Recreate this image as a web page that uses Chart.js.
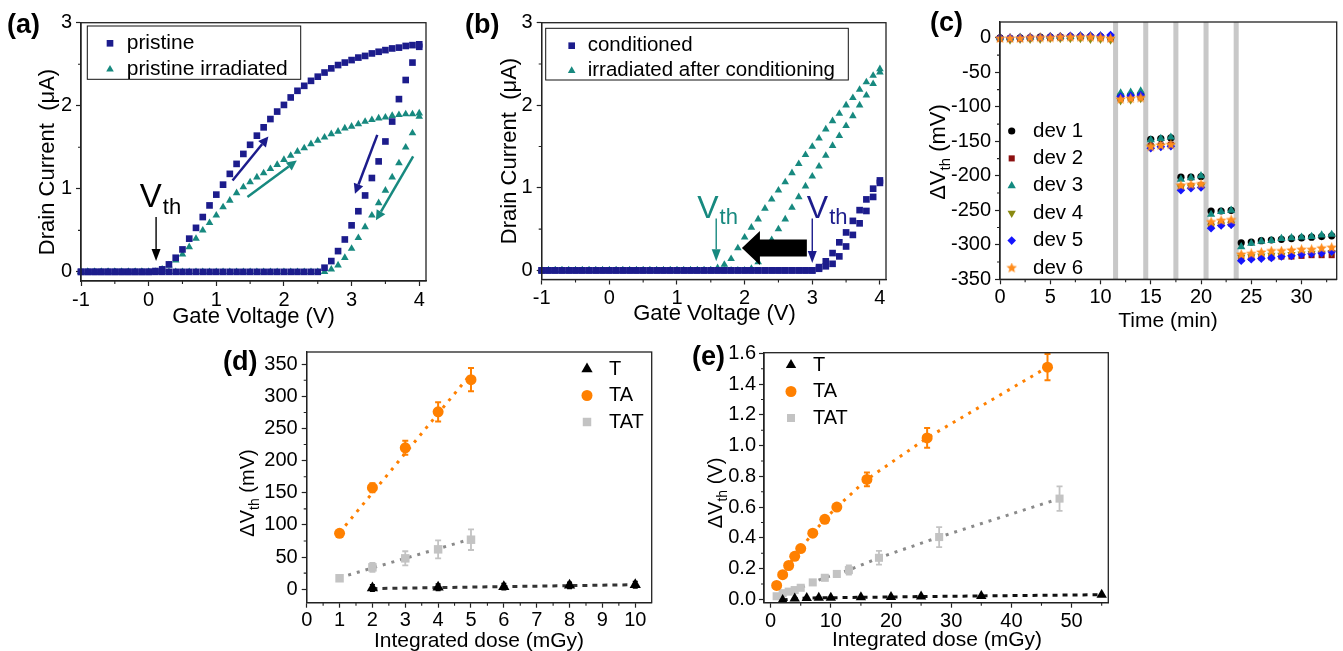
<!DOCTYPE html>
<html>
<head>
<meta charset="utf-8">
<title>Threshold voltage shift</title>
<script src="https://cdn.jsdelivr.net/npm/chart.js@4.4.1/dist/chart.umd.min.js"></script>
<style>
  html, body { margin: 0; padding: 0; background: #fff; }
  #fig { position: relative; width: 1343px; height: 651px; overflow: hidden; background: #fff; }
  #fig canvas { position: absolute; left: 0; top: 0; }
</style>
</head>
<body>
<div id="fig">
  <canvas id="chart-a" width="1343" height="651"></canvas>
  <canvas id="chart-b" width="1343" height="651"></canvas>
  <canvas id="chart-c" width="1343" height="651"></canvas>
  <canvas id="chart-d" width="1343" height="651"></canvas>
  <canvas id="chart-e" width="1343" height="651"></canvas>
</div>
<script>
// ---------- (a) and (b): gate sweeps from -1 V to 4 V ----------
const gateV = [-1.0, -0.9, -0.8, -0.7, -0.6, -0.5, -0.4, -0.3, -0.2, -0.1,
  0.0, 0.1, 0.2, 0.3, 0.4, 0.5, 0.6, 0.7, 0.8, 0.9,
  1.0, 1.1, 1.2, 1.3, 1.4, 1.5, 1.6, 1.7, 1.8, 1.9,
  2.0, 2.1, 2.2, 2.3, 2.4, 2.5, 2.6, 2.7, 2.8, 2.9,
  3.0, 3.1, 3.2, 3.3, 3.4, 3.5, 3.6, 3.7, 3.8, 3.9, 4.0];

// (a) drain current, uA
const pristineUp = [0, 0, 0, 0, 0, 0, 0, 0, 0, 0,
  0, 0.01, 0.03, 0.09, 0.17, 0.27, 0.40, 0.53, 0.66, 0.80,
  0.93, 1.05, 1.18, 1.30, 1.42, 1.53, 1.64, 1.74, 1.84, 1.93,
  2.01, 2.10, 2.18, 2.24, 2.30, 2.35, 2.40, 2.45, 2.49, 2.52,
  2.55, 2.58, 2.60, 2.63, 2.65, 2.67, 2.69, 2.70, 2.72, 2.73, 2.74];
const pristineDown = [0, 0, 0, 0, 0, 0, 0, 0, 0, 0,
  0, 0, 0, 0, 0, 0, 0, 0, 0, 0,
  0, 0, 0, 0, 0, 0, 0, 0, 0, 0,
  0, 0, 0, 0, 0, 0, 0.05, 0.13, 0.25, 0.39,
  0.56, 0.73, 0.92, 1.13, 1.33, 1.57, 1.81, 2.08, 2.31, 2.52, 2.71];
const irradUp = [0, 0, 0, 0, 0, 0, 0, 0, 0, 0,
  0, 0, 0.03, 0.08, 0.14, 0.21, 0.30, 0.40, 0.50, 0.59,
  0.68, 0.78, 0.86, 0.95, 1.02, 1.08, 1.14, 1.19, 1.24, 1.29,
  1.35, 1.40, 1.45, 1.49, 1.54, 1.58, 1.62, 1.66, 1.69, 1.73,
  1.75, 1.78, 1.81, 1.83, 1.85, 1.86, 1.88, 1.89, 1.90, 1.90, 1.91];
const irradDown = [0, 0, 0, 0, 0, 0, 0, 0, 0, 0,
  0, 0, 0, 0, 0, 0, 0, 0, 0, 0,
  0, 0, 0, 0, 0, 0, 0, 0, 0, 0,
  0, 0, 0, 0, 0, 0, 0, 0.03, 0.08, 0.17,
  0.28, 0.41, 0.54, 0.68, 0.83, 0.98, 1.14, 1.31, 1.50, 1.67, 1.87];

// (b) drain current, uA
const condUp = [0, 0, 0, 0, 0, 0, 0, 0, 0, 0,
  0, 0, 0, 0, 0, 0, 0, 0, 0, 0,
  0, 0, 0, 0, 0, 0, 0, 0, 0, 0,
  0, 0, 0, 0, 0, 0, 0, 0, 0, 0,
  0, 0.04, 0.11, 0.21, 0.34, 0.46, 0.60, 0.73, 0.86, 0.99, 1.09];
const condDown = [0, 0, 0, 0, 0, 0, 0, 0, 0, 0,
  0, 0, 0, 0, 0, 0, 0, 0, 0, 0,
  0, 0, 0, 0, 0, 0, 0, 0, 0, 0,
  0, 0, 0, 0, 0, 0, 0, 0, 0, 0,
  0, 0.02, 0.05, 0.08, 0.17, 0.29, 0.43, 0.57, 0.72, 0.89, 1.06];
const irrCondUp = [0, 0, 0, 0, 0, 0, 0, 0, 0, 0,
  0, 0, 0, 0, 0, 0, 0, 0, 0, 0,
  0, 0, 0, 0, 0, 0, 0.03, 0.07, 0.14, 0.27,
  0.40, 0.52, 0.62, 0.75, 0.86, 0.97, 1.07, 1.18, 1.29, 1.40,
  1.50, 1.60, 1.71, 1.81, 1.90, 2.00, 2.09, 2.19, 2.28, 2.36, 2.44];
const irrCondDown = [0, 0, 0, 0, 0, 0, 0, 0, 0, 0,
  0, 0, 0, 0, 0, 0, 0, 0, 0, 0,
  0, 0, 0, 0, 0, 0, 0, 0, 0, 0,
  0, 0.02, 0.10, 0.23, 0.37, 0.50, 0.62, 0.76, 0.89, 1.02,
  1.14, 1.26, 1.39, 1.51, 1.63, 1.75, 1.87, 2.00, 2.12, 2.26, 2.40];

const sweepTicksX = [-1, 0, 1, 2, 3, 4];
const sweepMinorX = [-0.5, 0.5, 1.5, 2.5, 3.5];
const sweepTicksY = [0, 1, 2, 3];
const sweepMinorY = [0.5, 1.5, 2.5];

// ---------- (c): threshold shift vs time, mV ----------
const timeMin = [0, 1, 2, 3, 4, 5, 6, 7, 8, 9, 10, 11, 12, 13, 14, 15, 16,
  17, 18, 19, 20, 21, 22, 23, 24, 25, 26, 27, 28, 29, 30, 31, 32, 33];
const dev1 = [0, -1, 0, 0, 1, 1, 1, 2, 2, 2, 2, 1, -84, -83, -82, -147, -146,
  -145, -202, -202, -201, -251, -251, -250, -297, -296, -294, -293, -292, -291, -290, -289, -288, -287];
const dev2 = [-1, -1, -1, 0, 0, 0, 1, 1, 1, 1, 0, -1, -88, -87, -86, -157, -156,
  -155, -216, -215, -214, -272, -270, -269, -320, -319, -318, -318, -317, -317, -316, -315, -315, -315];
const dev3 = [0, 0, 1, 1, 1, 2, 2, 2, 3, 3, 3, 3, -80, -79, -77, -148, -146,
  -144, -205, -203, -200, -256, -252, -250, -303, -298, -295, -294, -291, -290, -289, -288, -286, -285];
const dev4 = [-2, -3, -2, -2, -2, -1, -1, -1, -1, -2, -2, -3, -91, -90, -88, -158, -157,
  -156, -217, -216, -215, -273, -271, -270, -318, -317, -316, -315, -315, -314, -313, -312, -312, -311];
const dev5 = [0, 0, 0, 1, 1, 2, 2, 3, 3, 3, 3, 4, -85, -84, -83, -160, -158,
  -157, -221, -218, -217, -276, -272, -271, -323, -321, -320, -319, -317, -316, -314, -313, -312, -310];
const dev6 = [-1, -1, -1, 0, 0, 0, 1, 1, 1, 1, 0, -1, -89, -88, -87, -158, -156,
  -155, -214, -213, -212, -267, -265, -264, -314, -313, -311, -309, -309, -308, -307, -307, -305, -304];
const irradTimes = [11.5, 14.5, 17.5, 20.5, 23.5];

const timeTicksX = [0, 5, 10, 15, 20, 25, 30];
const timeMinorX = [2.5, 7.5, 12.5, 17.5, 22.5, 27.5, 32.5];
const shiftTicksY = [0, -50, -100, -150, -200, -250, -300, -350];
const shiftMinorY = [-25, -75, -125, -175, -225, -275, -325];

// ---------- (d): shift vs dose, mV ----------
const tDoseD = [2, 4, 6, 8, 10];
const tShiftD = [2, 3, 4, 6, 7];
const tErrD = [5, 5, 5, 5, 5];
const taDoseD = [1, 2, 3, 4, 5];
const taShiftD = [87, 158, 220, 276, 326];
const taErrD = [3, 7, 11, 15, 18];
const tatDoseD = [1, 2, 3, 4, 5];
const tatShiftD = [17, 34, 48, 62, 77];
const tatErrD = [3, 7, 11, 14, 16];
// linear fits
const tFitD = { x: [2, 10], y: [1, 7] };
const taFitD = { x: [1, 5], y: [88, 335] };
const tatFitD = { x: [1, 5], y: [18, 78] };

const doseTicksXD = [0, 1, 2, 3, 4, 5, 6, 7, 8, 9, 10];
const doseMinorXD = [0.5, 1.5, 2.5, 3.5, 4.5, 5.5, 6.5, 7.5, 8.5, 9.5];
const mvTicksYD = [0, 50, 100, 150, 200, 250, 300, 350];
const mvMinorYD = [25, 75, 125, 175, 225, 275, 325];

// ---------- (e): shift vs dose, V ----------
const tDoseE = [2, 4, 6, 8, 10, 15, 20, 25, 35, 55];
const tShiftE = [-0.005, 0.005, 0.008, 0.01, 0.01, 0.013, 0.015, 0.018, 0.022, 0.03];
const taDoseE = [1, 2, 3, 4, 5, 7, 9, 11, 16, 26, 46];
const taShiftE = [0.09, 0.16, 0.22, 0.28, 0.33, 0.43, 0.52, 0.60, 0.78, 1.05, 1.51];
const taErrE = [0.01, 0.01, 0.01, 0.01, 0.01, 0.01, 0.01, 0.015, 0.045, 0.064, 0.085];
const tatDoseE = [1, 2, 3, 4, 5, 7, 9, 11, 13, 18, 28, 48];
const tatShiftE = [0.02, 0.04, 0.05, 0.06, 0.075, 0.11, 0.14, 0.165, 0.19, 0.27, 0.405, 0.655];
const tatErrE = [0.01, 0.01, 0.01, 0.01, 0.01, 0.015, 0.015, 0.02, 0.03, 0.045, 0.065, 0.08];

const doseTicksXE = [0, 10, 20, 30, 40, 50];
const doseMinorXE = [5, 15, 25, 35, 45, 55];
const vTicksYE = [0, 0.2, 0.4, 0.6, 0.8, 1.0, 1.2, 1.4, 1.6];
const vMinorYE = [0.1, 0.3, 0.5, 0.7, 0.9, 1.1, 1.3, 1.5];

// ---------- styling ----------
const FONT = '"Liberation Sans", Arial, Helvetica, sans-serif';
const AXIS = '#222';
const W = 1343;
const NAVY = '#1c1c8c';
const TEAL = '#17897f';
const ORANGE = '#ff8000';
const LGRAY = '#c3c3c3';
const DGRAY = '#8a8a8a';

// filled five-point star used for dev 6
function starImage(color, size) {
  const c = document.createElement('canvas');
  c.width = c.height = size;
  const g = c.getContext('2d');
  const R = size / 2, r = R * 0.45;
  g.fillStyle = color;
  g.beginPath();
  for (let k = 0; k < 10; k++) {
    const rad = k % 2 ? r : R;
    const ang = -Math.PI / 2 + k * Math.PI / 5;
    g.lineTo(R + rad * Math.cos(ang), R + rad * Math.sin(ang));
  }
  g.closePath();
  g.fill();
  return c;
}

function linAxis(spec, size, isX) {
  return {
    type: 'linear',
    min: spec.min,
    max: spec.max,
    border: { display: true, color: AXIS, width: 1.3 },
    grid: { drawOnChartArea: false, drawTicks: true, tickLength: 5, color: AXIS, tickWidth: 1.2 },
    ticks: {
      padding: spec.pad,
      color: '#000',
      font: { family: FONT, size: 20 },
      maxRotation: 0,
      autoSkip: false,
      callback: v => spec.fmt ? spec.fmt(v) : String(v)
    },
    afterBuildTicks: s => { s.ticks = spec.ticks.map(v => ({ value: v })); },
    afterFit: s => { if (isX) s.height = size; else s.width = size; }
  };
}

function marks(label, xs, ys, color, style, r, more) {
  return Object.assign({
    label,
    inLegend: true,
    data: xs.map((x, i) => ({ x, y: ys[i] })),
    pointStyle: style,
    pointRadius: r,
    pointRotation: 0,
    backgroundColor: color,
    borderColor: color,
    pointBackgroundColor: color,
    pointBorderWidth: 0,
    showLine: false,
    clip: false
  }, more || {});
}

function dotted(label, xs, ys, color, dash, width) {
  return {
    label,
    inLegend: false,
    data: xs.map((x, i) => ({ x, y: ys[i] })),
    showLine: true,
    pointRadius: 0,
    borderColor: color,
    borderWidth: width,
    borderDash: dash,
    tension: 0,
    fill: false,
    clip: false
  };
}

function rotatedTitle(ctx, t) {
  ctx.save();
  ctx.translate(t.x, t.y);
  ctx.rotate(-Math.PI / 2);
  ctx.textAlign = 'left';
  ctx.textBaseline = 'alphabetic';
  let w = 0;
  t.parts.forEach(p => { ctx.font = p.size + 'px ' + FONT; w += ctx.measureText(p.text).width; });
  let x = -w / 2;
  const base = t.parts[0].size * 0.36;
  t.parts.forEach(p => {
    ctx.font = p.size + 'px ' + FONT;
    ctx.fillText(p.text, x, base + (p.dy || 0));
    x += ctx.measureText(p.text).width;
  });
  ctx.restore();
}

function drawLegend(chart, ctx, L) {
  const a = chart.chartArea;
  if (L.box) {
    ctx.strokeStyle = '#111';
    ctx.lineWidth = 1;
    ctx.strokeRect(a.left + L.box[0], a.top + L.box[1], L.box[2] - L.box[0], L.box[3] - L.box[1]);
  }
  ctx.font = L.size + 'px ' + FONT;
  ctx.textAlign = 'left';
  ctx.textBaseline = 'middle';
  chart.data.datasets.filter(ds => ds.inLegend).forEach((ds, i) => {
    const y = a.top + L.y0 + i * L.dy;
    ctx.fillStyle = ds.pointBackgroundColor;
    ctx.strokeStyle = ds.pointBackgroundColor;
    Chart.helpers.drawPoint(ctx, {
      pointStyle: ds.pointStyle, radius: ds.pointRadius, rotation: ds.pointRotation, borderWidth: 0
    }, a.left + L.mx, y);
    ctx.fillStyle = '#000';
    ctx.fillText(ds.label, a.left + L.tx, y);
  });
}

function errBars(chart, ctx, xs, ys, errs, color, width, cap) {
  const sx = chart.scales.x, sy = chart.scales.y;
  ctx.strokeStyle = color;
  ctx.lineWidth = width;
  ctx.beginPath();
  xs.forEach((x, i) => {
    const px = sx.getPixelForValue(x);
    const lo = sy.getPixelForValue(ys[i] - errs[i]);
    const hi = sy.getPixelForValue(ys[i] + errs[i]);
    ctx.moveTo(px, lo); ctx.lineTo(px, hi);
    ctx.moveTo(px - cap, lo); ctx.lineTo(px + cap, lo);
    ctx.moveTo(px - cap, hi); ctx.lineTo(px + cap, hi);
  });
  ctx.stroke();
}

// straight arrow with a filled head
function arrow(ctx, p1, p2, color, width, head, half) {
  const ang = Math.atan2(p2[1] - p1[1], p2[0] - p1[0]);
  const bx = p2[0] - head * Math.cos(ang), by = p2[1] - head * Math.sin(ang);
  ctx.strokeStyle = color;
  ctx.fillStyle = color;
  ctx.lineWidth = width;
  ctx.beginPath();
  ctx.moveTo(p1[0], p1[1]);
  ctx.lineTo(bx, by);
  ctx.stroke();
  ctx.beginPath();
  ctx.moveTo(p2[0], p2[1]);
  ctx.lineTo(bx + half * Math.sin(ang), by - half * Math.cos(ang));
  ctx.lineTo(bx - half * Math.sin(ang), by + half * Math.cos(ang));
  ctx.closePath();
  ctx.fill();
}

function vthLabel(ctx, p, color, big, small) {
  ctx.fillStyle = color;
  ctx.textAlign = 'left';
  ctx.textBaseline = 'alphabetic';
  ctx.font = big + 'px ' + FONT;
  ctx.fillText('V', p[0], p[1]);
  const w = ctx.measureText('V').width;
  ctx.font = small + 'px ' + FONT;
  ctx.fillText('th', p[0] + w + 1, p[1] + 6.5);
}

function decor(o) {
  return {
    id: 'decor',
    beforeDatasetsDraw(chart) {
      if (!o.under) return;
      const ctx = chart.ctx;
      ctx.save();
      o.under(chart, ctx);
      ctx.restore();
    },
    afterDraw(chart) {
      const ctx = chart.ctx, a = chart.chartArea;
      const sx = chart.scales.x, sy = chart.scales.y;
      ctx.save();
      ctx.strokeStyle = AXIS;
      ctx.lineWidth = 1.3;
      ctx.strokeRect(a.left, a.top, a.right - a.left, a.bottom - a.top);

      // minor ticks, pointing out
      ctx.lineWidth = 1.1;
      ctx.beginPath();
      o.minorX.forEach(v => { const p = sx.getPixelForValue(v); ctx.moveTo(p, a.bottom); ctx.lineTo(p, a.bottom + 3); });
      o.minorY.forEach(v => { const p = sy.getPixelForValue(v); ctx.moveTo(a.left, p); ctx.lineTo(a.left - 3, p); });
      ctx.stroke();

      ctx.fillStyle = '#000';
      ctx.textAlign = 'center';
      ctx.textBaseline = 'alphabetic';
      ctx.font = o.xTitle.size + 'px ' + FONT;
      ctx.fillText(o.xTitle.text, o.xTitle.x, o.xTitle.y);
      rotatedTitle(ctx, o.yTitle);

      ctx.textAlign = 'left';
      ctx.font = 'bold 27px ' + FONT;
      ctx.fillText(o.tag.text, o.tag.x, o.tag.y);

      if (o.legend) drawLegend(chart, ctx, o.legend);
      if (o.over) {
        const P = (x, y) => [sx.getPixelForValue(x), sy.getPixelForValue(y)];
        o.over(chart, ctx, P);
      }
      ctx.restore();
    }
  };
}

function panel(id, box, xSpec, ySpec, datasets, deco) {
  return new Chart(document.getElementById(id), {
    type: 'scatter',
    data: { datasets },
    options: {
      responsive: false,
      animation: false,
      devicePixelRatio: 1,
      events: [],
      layout: { padding: { left: 0, top: box.top, right: W - box.right, bottom: 0 } },
      plugins: { legend: { display: false }, tooltip: { enabled: false } },
      scales: {
        x: linAxis(xSpec, 651 - box.bottom, true),
        y: linAxis(ySpec, box.left, false)
      }
    },
    plugins: [decor(deco)]
  });
}

const drainTitle = size => [{ text: 'Drain Current  (\u03bcA)', size }];

// ---------- (a) ----------
panel('chart-a',
  { left: 81, top: 22.7, right: 426, bottom: 281 },
  { min: -1, max: 4.1, ticks: sweepTicksX, pad: 2 },
  { min: -0.11, max: 3, ticks: sweepTicksY, pad: 4 },
  [
    marks('pristine', gateV, pristineUp, NAVY, 'rect', 4.7),
    marks('pristine, reverse', gateV, pristineDown, NAVY, 'rect', 4.7, { inLegend: false }),
    marks('pristine irradiated', gateV, irradUp, TEAL, 'triangle', 4.4),
    marks('pristine irradiated, reverse', gateV, irradDown, TEAL, 'triangle', 4.4, { inLegend: false })
  ],
  {
    minorX: sweepMinorX, minorY: sweepMinorY,
    xTitle: { text: 'Gate Voltage (V)', size: 22, x: 253.5, y: 323 },
    yTitle: { parts: drainTitle(22), x: 46, y: 162 },
    tag: { text: '(a)', x: 7, y: 33 },
    legend: { box: [6.3, 3.3, 219.7, 56.6], mx: 29, y0: 20.6, dy: 26, tx: 45.7, size: 21 },
    over(chart, ctx, P) {
      // sweep direction arrows
      arrow(ctx, P(1.24, 1.10), P(1.77, 1.63), NAVY, 2.5, 10, 5);
      arrow(ctx, P(1.46, 0.90), P(2.19, 1.34), TEAL, 2.5, 10, 5);
      arrow(ctx, P(3.38, 1.65), P(3.05, 0.94), NAVY, 2.5, 10, 5);
      arrow(ctx, P(3.91, 1.39), P(3.36, 0.62), TEAL, 2.5, 10, 5);
      // threshold marker
      arrow(ctx, P(0.11, 0.66), P(0.11, 0.13), '#000', 1.4, 12, 4.5);
      vthLabel(ctx, P(-0.13, 0.78), '#000', 33, 22);
    }
  });

// ---------- (b) ----------
panel('chart-b',
  { left: 541.7, top: 22.7, right: 886, bottom: 279.5 },
  { min: -1, max: 4.09, ticks: sweepTicksX, pad: 2 },
  { min: -0.11, max: 3, ticks: sweepTicksY, pad: 4 },
  [
    marks('conditioned', gateV, condUp, NAVY, 'rect', 4.7),
    marks('conditioned, reverse', gateV, condDown, NAVY, 'rect', 4.7, { inLegend: false }),
    marks('irradiated after conditioning', gateV, irrCondUp, TEAL, 'triangle', 4.4),
    marks('irradiated after conditioning, reverse', gateV, irrCondDown, TEAL, 'triangle', 4.4, { inLegend: false })
  ],
  {
    minorX: sweepMinorX, minorY: sweepMinorY,
    xTitle: { text: 'Gate Voltage (V)', size: 22, x: 714.5, y: 320 },
    yTitle: { parts: drainTitle(22), x: 508, y: 151 },
    tag: { text: '(b)', x: 465, y: 33 },
    legend: { box: [4, 5.6, 306.6, 57.3], mx: 30, y0: 23, dy: 25, tx: 46, size: 20.5 },
    over(chart, ctx, P) {
      arrow(ctx, P(1.58, 0.63), P(1.58, 0.11), TEAL, 1.4, 12, 4.5);
      vthLabel(ctx, P(1.30, 0.64), TEAL, 32, 22);
      arrow(ctx, P(3.0, 0.63), P(3.0, 0.09), NAVY, 1.4, 12, 4.5);
      vthLabel(ctx, P(2.92, 0.64), NAVY, 32, 22);
      // big shift arrow
      const tip = P(1.96, 0.27), tail = P(2.92, 0.27);
      ctx.fillStyle = '#000';
      ctx.beginPath();
      ctx.moveTo(tip[0], tip[1]);
      ctx.lineTo(tip[0] + 18, tip[1] - 17);
      ctx.lineTo(tip[0] + 18, tip[1] - 8.5);
      ctx.lineTo(tail[0], tip[1] - 8.5);
      ctx.lineTo(tail[0], tip[1] + 8.5);
      ctx.lineTo(tip[0] + 18, tip[1] + 8.5);
      ctx.lineTo(tip[0] + 18, tip[1] + 17);
      ctx.closePath();
      ctx.fill();
    }
  });

// ---------- (c) ----------
panel('chart-c',
  { left: 1000, top: 22, right: 1336.7, bottom: 279.3 },
  { min: 0, max: 33.5, ticks: timeTicksX, pad: 1 },
  { min: -350, max: 23, ticks: shiftTicksY, pad: 4 },
  [
    marks('dev 1', timeMin, dev1, '#000000', 'circle', 3.6, { order: 6 }),
    marks('dev 2', timeMin, dev2, '#8c1010', 'rect', 4.3, { order: 5 }),
    marks('dev 3', timeMin, dev3, '#138a80', 'triangle', 4.8, { order: 4 }),
    marks('dev 4', timeMin, dev4, '#8a8a12', 'triangle', 4.8, { order: 3, pointRotation: 180 }),
    marks('dev 5', timeMin, dev5, '#1414ff', 'rectRot', 4.3, { order: 2 }),
    marks('dev 6', timeMin, dev6, '#ff8c1c', starImage('#ff8c1c', 11), 4, { order: 1 })
  ],
  {
    minorX: timeMinorX, minorY: shiftMinorY,
    xTitle: { text: 'Time (min)', size: 21, x: 1168, y: 327 },
    yTitle: { parts: [{ text: '\u0394V', size: 22 }, { text: 'th', size: 15, dy: 5 }, { text: ' (mV)', size: 22 }], x: 937, y: 152 },
    tag: { text: '(c)', x: 930, y: 31 },
    legend: { mx: 11.7, y0: 109, dy: 27.4, tx: 33, size: 20.5 },
    under(chart, ctx) {
      // irradiation intervals
      const a = chart.chartArea, sx = chart.scales.x;
      ctx.fillStyle = '#c8c8c8';
      irradTimes.forEach(t => {
        const x1 = sx.getPixelForValue(t - 0.25), x2 = sx.getPixelForValue(t + 0.25);
        ctx.fillRect(x1, a.top, x2 - x1, a.bottom - a.top);
      });
    }
  });

// ---------- (d) ----------
panel('chart-d',
  { left: 306.7, top: 352, right: 651.7, bottom: 602.7 },
  { min: 0, max: 10.5, ticks: doseTicksXD, pad: 1 },
  { min: -21, max: 369, ticks: mvTicksYD, pad: 4 },
  [
    marks('T', tDoseD, tShiftD, '#000', 'triangle', 6.5),
    marks('TA', taDoseD, taShiftD, ORANGE, 'circle', 5.5),
    marks('TAT', tatDoseD, tatShiftD, LGRAY, 'rect', 6),
    dotted('T fit', tFitD.x, tFitD.y, '#333', [5, 5], 3),
    dotted('TA fit', taFitD.x, taFitD.y, ORANGE, [3, 6], 3),
    dotted('TAT fit', tatFitD.x, tatFitD.y, DGRAY, [3, 6], 3)
  ],
  {
    minorX: doseMinorXD, minorY: mvMinorYD,
    xTitle: { text: 'Integrated dose (mGy)', size: 21, x: 479, y: 647 },
    yTitle: { parts: [{ text: '\u0394V', size: 20 }, { text: 'th', size: 14, dy: 5 }, { text: ' (mV)', size: 20 }], x: 247, y: 493 },
    tag: { text: '(d)', x: 223, y: 370 },
    legend: { mx: 280.3, y0: 17, dy: 26.5, tx: 302.3, size: 20 },
    under(chart, ctx) {
      errBars(chart, ctx, tDoseD, tShiftD, tErrD, '#000', 1.5, 2.5);
      errBars(chart, ctx, taDoseD, taShiftD, taErrD, ORANGE, 2, 3);
      errBars(chart, ctx, tatDoseD, tatShiftD, tatErrD, LGRAY, 1.8, 3);
    }
  });

// ---------- (e) ----------
panel('chart-e',
  { left: 764, top: 352.7, right: 1108.3, bottom: 602.7 },
  { min: -1.1, max: 56.1, ticks: doseTicksXE, pad: 1.5 },
  { min: -0.022, max: 1.604, ticks: vTicksYE, pad: 3, fmt: v => v.toFixed(1) },
  [
    marks('T', tDoseE, tShiftE, '#000', 'triangle', 6),
    marks('TA', taDoseE, taShiftE, ORANGE, 'circle', 5.5),
    marks('TAT', tatDoseE, tatShiftE, LGRAY, 'rect', 5.7),
    dotted('T trend', tDoseE, tShiftE, '#111', [5, 5], 3),
    dotted('TA trend', taDoseE, taShiftE, ORANGE, [3, 6], 3),
    dotted('TAT trend', tatDoseE, tatShiftE, DGRAY, [3, 6], 3)
  ],
  {
    minorX: doseMinorXE, minorY: vMinorYE,
    xTitle: { text: 'Integrated dose (mGy)', size: 21, x: 937, y: 646 },
    yTitle: { parts: [{ text: '\u0394V', size: 20 }, { text: 'th', size: 14, dy: 5 }, { text: ' (V)', size: 20 }], x: 715, y: 493 },
    tag: { text: '(e)', x: 692, y: 365 },
    legend: { mx: 27, y0: 12.3, dy: 26.5, tx: 49, size: 20 },
    under(chart, ctx) {
      errBars(chart, ctx, taDoseE, taShiftE, taErrE, ORANGE, 2, 3);
      errBars(chart, ctx, tatDoseE, tatShiftE, tatErrE, LGRAY, 1.8, 3);
    }
  });
</script>
</body>
</html>
